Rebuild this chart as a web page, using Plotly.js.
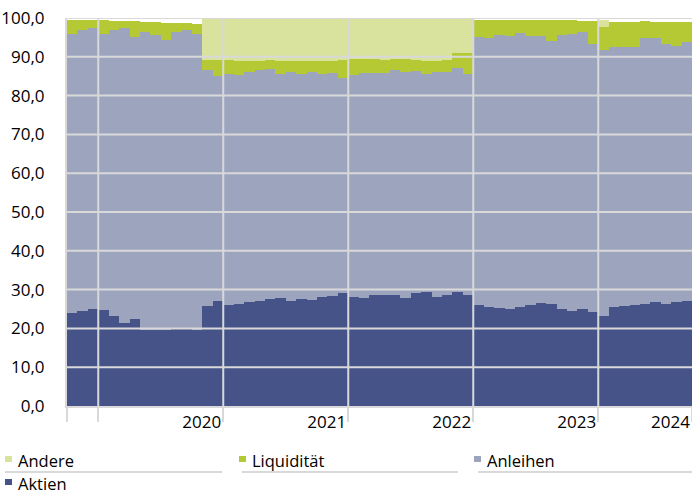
<!DOCTYPE html>
<html>
<head>
<meta charset="utf-8">
<script src="https://cdn.plot.ly/plotly-3.0.1.min.js"></script>
<style>html,body{margin:0;padding:0;background:#fff;}#chart{width:692px;height:495px;}</style>
</head>
<body>
<div id="chart"></div>
<script>
// Monthly categories (Oct 2019 - Sep 2024)
const months = [
  '2019-10','2019-11','2019-12',
  '2020-01','2020-02','2020-03','2020-04','2020-05','2020-06','2020-07','2020-08','2020-09','2020-10','2020-11','2020-12',
  '2021-01','2021-02','2021-03','2021-04','2021-05','2021-06','2021-07','2021-08','2021-09','2021-10','2021-11','2021-12',
  '2022-01','2022-02','2022-03','2022-04','2022-05','2022-06','2022-07','2022-08','2022-09','2022-10','2022-11','2022-12',
  '2023-01','2023-02','2023-03','2023-04','2023-05','2023-06','2023-07','2023-08','2023-09','2023-10','2023-11','2023-12',
  '2024-01','2024-02','2024-03','2024-04','2024-05','2024-06','2024-07','2024-08','2024-09'
];
// Series values (%)
const aktien = [
  24.0,24.6,25.0,
  24.7,23.2,21.4,22.5,19.5,19.6,19.7,20.1,19.8,19.5,25.7,27.1,
  26.0,26.3,26.9,27.1,27.5,27.8,27.1,27.5,27.2,28.0,28.4,29.0,
  28.1,27.9,28.6,28.5,28.6,27.9,29.0,29.3,28.1,28.7,29.3,28.7,
  26.1,25.5,25.2,25.0,25.4,26.1,26.5,26.2,25.1,24.6,25.1,24.1,
  23.2,25.6,25.9,26.0,26.3,26.9,26.4,26.7,27.0
];
const anleihen = [
  71.8,72.2,72.4,
  71.2,73.8,76.0,72.7,76.8,76.1,74.6,76.2,77.2,76.3,60.8,58.0,
  59.6,59.0,59.1,59.4,59.3,57.8,58.9,58.1,59.0,57.6,57.4,55.6,
  57.1,57.9,57.2,57.3,58.1,58.2,57.3,56.3,57.9,57.4,57.9,56.9,
  69.0,69.4,70.3,70.3,70.8,69.2,68.9,68.0,70.4,71.2,71.2,69.3,
  68.5,67.0,66.5,66.4,68.6,67.9,67.0,66.2,66.7
];
const liquiditaet = [
  3.7,2.7,2.1,
  3.5,2.3,1.8,3.9,2.7,3.2,4.5,2.4,1.6,2.7,2.8,4.0,
  3.5,3.6,2.9,2.5,2.3,3.3,3.0,3.4,2.8,3.3,3.2,4.5,
  4.2,3.6,3.6,3.4,2.7,3.3,2.9,3.4,2.9,3.1,3.7,5.3,
  4.4,4.5,3.9,4.1,3.2,4.1,4.0,5.2,3.9,3.6,3.0,5.7,
  5.9,6.4,6.6,6.6,4.2,4.2,5.6,6.1,5.3
];
const andere = [
  0,0,0,
  0,0,0,0,0,0,0,0,0,0,10.7,10.9,
  10.9,11.1,11.1,11.0,10.9,11.1,11.0,11.0,11.0,11.1,11.0,10.9,
  10.6,10.6,10.6,10.8,10.6,10.6,10.8,11.0,11.1,10.8,9.1,9.1,
  0,0,0,0,0,0,0,0,0,0,0,0,
  1.8,0,0,0,0,0,0,0,0
];
// Year tick labels (placed at the end of each year block)
const yearLabels = ['2020','2021','2022','2023','2024'];
const seriesNames = ['Aktien','Anleihen','Liquidität','Andere'];
const seriesColors = ['#455389','#9ca4be','#b5c935','#d9e39e'];

const idx = months.map((m, i) => i);
const seriesData = [aktien, anleihen, liquiditaet, andere];

const traces = seriesData.map((vals, k) => ({
  type: 'bar',
  x: idx,
  y: vals,
  name: seriesNames[k],
  text: months,
  hovertemplate: '%{text}: %{y:.1f}<extra>' + seriesNames[k] + '</extra>',
  textposition: 'none',
  marker: {color: seriesColors[k], line: {width: 0}},
  showlegend: false
}));

// year boundaries: first month index of each January, minus 0.5
const boundaries = [];
months.forEach((m, i) => { if (m.endsWith('-01')) boundaries.push(i - 0.5); });
const xMin = -0.5, xMax = months.length - 0.5;
const yearEnds = boundaries.slice(1).concat([xMax]);

const grid = '#d9d9d9';
const shapes = [];
for (let v = 10; v <= 100; v += 10) {
  shapes.push({type: 'line', xref: 'x', yref: 'y', x0: xMin, x1: xMax, y0: v, y1: v,
    line: {color: grid, width: 2}, layer: 'above'});
}
boundaries.forEach(b => shapes.push({type: 'line', xref: 'x', yref: 'y', x0: b, x1: b, y0: 0, y1: 100,
  line: {color: grid, width: 2}, layer: 'above'}));

// Legend (custom table layout)
const W = 625, H = 388, L = 67, T = 18;
const px = v => (v - L) / W;
const py = v => (T + H - v) / H;
const legendItems = [
  {name: 'Andere', color: seriesColors[3], x: 17, y: 460},
  {name: 'Liquidität', color: seriesColors[2], x: 251, y: 460},
  {name: 'Anleihen', color: seriesColors[1], x: 486, y: 460},
  {name: 'Aktien', color: seriesColors[0], x: 17, y: 483}
];
const annotations = [];
legendItems.forEach(it => {
  annotations.push({xref: 'paper', yref: 'paper', x: px(it.x), y: py(it.y), xanchor: 'left', yanchor: 'middle',
    text: it.name, showarrow: false, borderpad: 0, font: {family: 'Open Sans', size: 16.5, color: '#000'}});
  shapes.push({type: 'rect', xref: 'paper', yref: 'paper', x0: px(it.x - 12), x1: px(it.x - 5),
    y0: py(it.y - 4), y1: py(it.y + 2), fillcolor: it.color, line: {width: 0}});
});
[[5, 222], [242, 458], [478, 692]].forEach(s => shapes.push({type: 'line', xref: 'paper', yref: 'paper',
  x0: px(s[0]), x1: px(s[1]), y0: py(472), y1: py(472), line: {color: grid, width: 2}}));

const layout = {
  width: 692, height: 495,
  margin: {l: L, r: 0, t: T, b: 495 - T - H, pad: 0},
  paper_bgcolor: '#fff', plot_bgcolor: '#fff',
  barmode: 'stack', bargap: 0,
  separators: ',.',
  showlegend: false,
  font: {family: 'Open Sans', color: '#000', size: 17},
  xaxis: {
    range: [xMin, xMax], showgrid: false, zeroline: false,
    tickmode: 'array',
    tickvals: [xMin].concat(boundaries.slice(0, 1), yearEnds),
    ticktext: ['', ''].concat(yearLabels),
    ticks: 'outside', ticklen: 14, tickwidth: 2, tickcolor: grid,
    ticklabelposition: 'outside left',
    showline: true, linecolor: grid, linewidth: 2,
    tickfont: {size: 17}
  },
  yaxis: {
    range: [0, 100], tickmode: 'array', tickvals: [0,10,20,30,40,50,60,70,80,90,100],
    tickformat: '.1f', showgrid: false, zeroline: false,
    ticks: '', showline: true, linecolor: grid, linewidth: 2,
    ticklabelstandoff: 17, tickfont: {size: 17}
  },
  shapes: shapes,
  annotations: annotations
};

Plotly.newPlot('chart', traces, layout, {displayModeBar: false, staticPlot: true});
</script>
</body>
</html>
